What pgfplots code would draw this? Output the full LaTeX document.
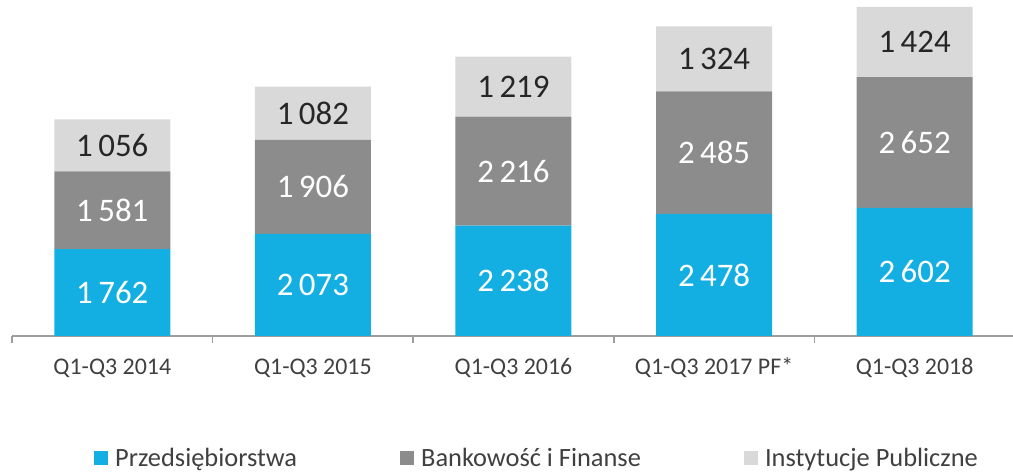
\documentclass[border=0pt]{standalone}
\usepackage{fontspec}
\setmainfont{Carlito}
\usepackage{pgfplots}
\usepackage{pgfplotstable}
\pgfplotsset{compat=1.18}

\definecolor{cprz}{RGB}{19,175,227}
\definecolor{cbank}{RGB}{140,140,140}
\definecolor{cinst}{RGB}{217,217,217}
\definecolor{ctxt}{RGB}{64,64,64}
\definecolor{cval}{RGB}{38,38,38}

% segments per period (Przedsiebiorstwa, Bankowosc, Instytucje)
\pgfplotstableread{
x p b i
0 1762 1581 1056
1 2073 1906 1082
2 2238 2216 1219
3 2478 2485 1324
4 2602 2652 1424
}\data

\begin{document}
\begin{tikzpicture}
\useasboundingbox (0,0) rectangle (1013bp,473bp);
\begin{axis}[
  at={(12bp,137bp)}, anchor=south west,
  scale only axis, width=1003bp, height=329bp,
  ybar stacked, bar width=116bp,
  xmin=-0.5, xmax=4.5, ymin=0, ymax=6678,
  axis x line*=bottom, axis y line=none,
  axis line style={draw=black!38, line width=1.5bp},
  xtick={0,...,4},
  xticklabels={Q1-Q3 2014, Q1-Q3 2015, Q1-Q3 2016, Q1-Q3 2017 PF*, Q1-Q3 2018},
  major tick length=0pt,
  xticklabel style={font=\fontsize{24}{28}\selectfont, text=ctxt, anchor=base, yshift=-38bp},
  extra x ticks={-0.5,0.5,...,4.5},
  extra x tick labels={},
  extra x tick style={major tick length=7bp, tick align=outside,
    tick style={draw=black!38, line width=1.5bp}},
  nodes near coords={\pgfmathprintnumber[assume math mode=true, 1000 sep={\,}]{\rawy}},
  every node near coord/.append style={font=\fontsize{33}{38}\selectfont,
    anchor=center},
  legend columns=3,
  legend style={at={(0.0818,-0.371)}, anchor=west, draw=none, fill=none,
    inner sep=0pt, font=\fontsize{26.5}{30}\selectfont, text=ctxt,
    nodes={inner sep=1pt, anchor=west},
    /tikz/every odd column/.append style={column sep=6bp},
    /tikz/every even column/.append style={column sep=102bp}},
  legend image code/.code={\fill[#1] (0bp,-7bp) rectangle (14bp,7bp);},
]
\addplot[fill=cprz, draw=none, visualization depends on={\thisrow{p}\as\rawy},
  every node near coord/.append style={text=white}] table[x=x, y=p] {\data};
\addplot[fill=cbank, draw=none, visualization depends on={\thisrow{b}\as\rawy},
  every node near coord/.append style={text=white}] table[x=x, y=b] {\data};
\addplot[fill=cinst, draw=none, visualization depends on={\thisrow{i}\as\rawy},
  every node near coord/.append style={text=cval}] table[x=x, y=i] {\data};
\legend{Przedsiębiorstwa, Bankowość i Finanse, Instytucje Publiczne}
\end{axis}
\end{tikzpicture}
\end{document}
